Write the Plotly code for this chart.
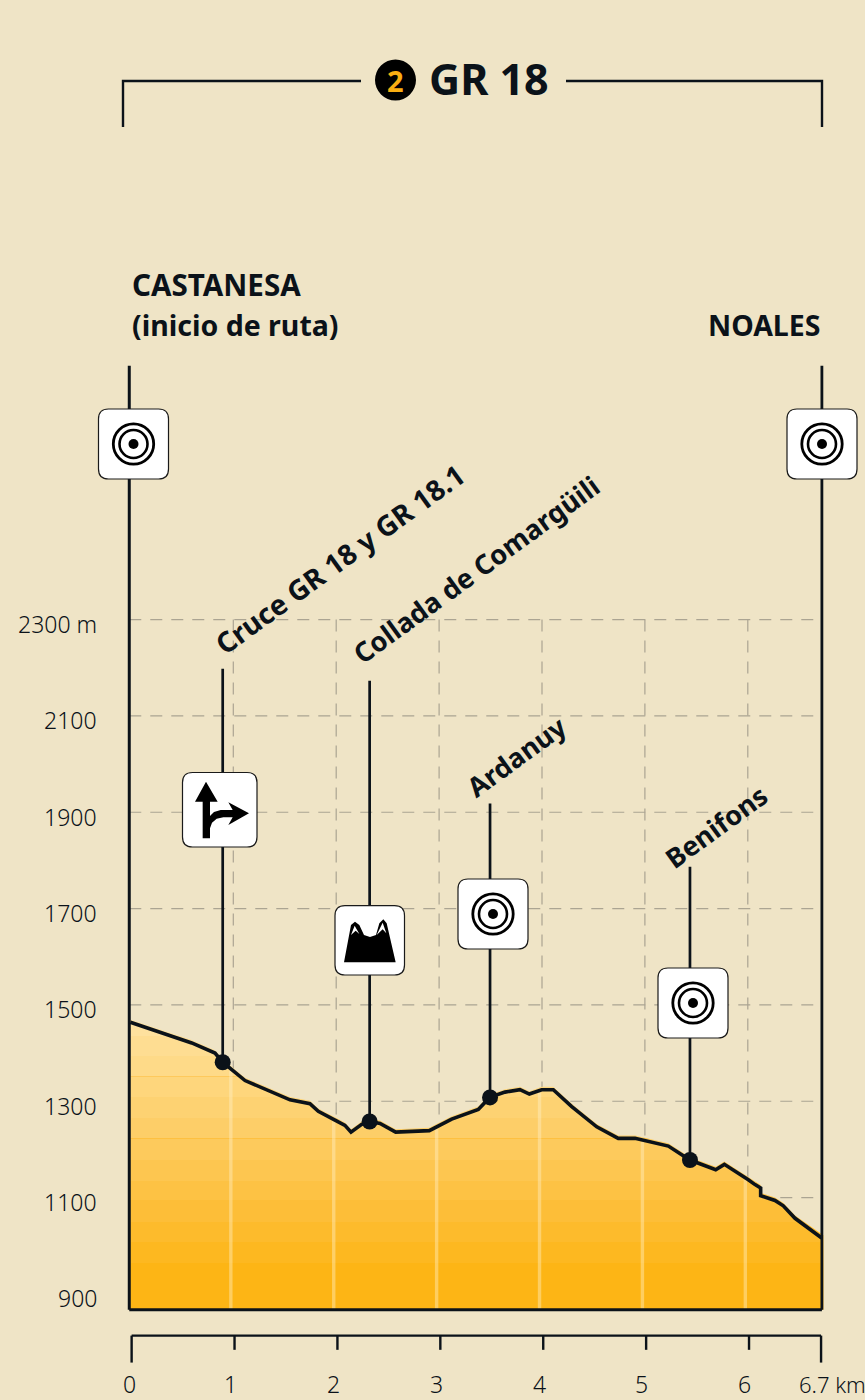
import numpy as np
import plotly.graph_objects as go

W, H = 865, 1400
BG = "#EFE4C6"
INK = "#0B1219"
GRID = "#ABA492"
FONT = "Noto Sans"

# Elevation profile
profile_km = [0.00, 0.596, 0.822, 0.897, 1.114, 1.551, 1.745, 1.826, 1.988, 2.085, 2.144, 2.248, 2.322, 2.426,
              2.578, 2.905, 3.122, 3.381, 3.492, 3.640, 3.786, 3.877, 3.997, 4.110, 4.289, 4.532, 4.741, 4.904,
              5.228, 5.438, 5.688, 5.772, 6.005, 6.070, 6.125, 6.125, 6.264, 6.345, 6.459, 6.718]
profile_m = [1464, 1421, 1400, 1381, 1343, 1303, 1295, 1279, 1261, 1250, 1236, 1252, 1258, 1254,
             1236, 1239, 1263, 1283, 1308, 1319, 1324, 1315, 1324, 1324, 1289, 1247, 1223, 1223,
             1207, 1178, 1158, 1169, 1137, 1127, 1120, 1104, 1094, 1083, 1057, 1016]

# Waypoints
waypoint_names = ["Cruce GR 18 y GR 18.1", "Collada de Comargüili", "Ardanuy", "Benifons"]
waypoint_km = [0.897, 2.325, 3.495, 5.438]
waypoint_m = [1381, 1258, 1308, 1178]
waypoint_stem_top_m = [2198, 2173, 1918, 1787]

# Axes
km_ticks = [0, 1, 2, 3, 4, 5, 6, 6.7]
km_tick_labels = ["0", "1", "2", "3", "4", "5", "6", "6.7 km"]
grid_km = [1, 2, 3, 4, 5, 6]
elev_ticks = [2300, 2100, 1900, 1700, 1500, 1300, 1100, 900]
elev_tick_labels = ["2300 m", "2100", "1900", "1700", "1500", "1300", "1100", "900"]
grid_elev = [2300, 2100, 1900, 1700, 1500, 1300, 1100]

# Fill bands (elevation of upper edge, colour)
band_tops = [1480, 1436, 1393, 1351, 1308, 1266, 1222, 1179, 1135, 1094, 1050, 1007, 965]
band_colours = ["#FEE19E", "#FEDD92", "#FEDA88", "#FED67C", "#FDD272", "#FDCE68", "#FDCA5C", "#FDC650",
                "#FDC244", "#FDBE38", "#FDBB2C", "#FDB820", "#FDB515"]
seam_m = [1351, 1222, 1094]
seam_colours = ["#FEC95C", "#FEC040", "#FDBB2A"]

BASE = 867
FRAME_TOP = 2827
FRAME_L, FRAME_R = -0.011, 6.72

# Whole-page axes: the page itself is the plot area
x0_px, km_px = 130.4, 102.9
y0_px, m_px = 1197.6, 0.4817
xr = [(0 - x0_px) / km_px, (W - x0_px) / km_px]
yr = [1100 + (y0_px - H) / m_px, 1100 + y0_px / m_px]

def px(x):
    return x / W
def py(y):
    return 1 - y / H

def path(points):
    return "M" + " L".join(f"{px(a):.5f},{py(b):.5f}" for a, b in points) + " Z"

fig = go.Figure()

def line(xs, ys, width=2.6, color=INK, dash=None):
    fig.add_trace(go.Scatter(x=xs, y=ys, mode="lines", hoverinfo="skip", showlegend=False,
                             line=dict(color=color, width=width, dash=dash, simplify=False)))

# Grid
for e in grid_elev:
    line([FRAME_L, FRAME_R], [e, e], 1.2, GRID, "12px,9px")
for k in grid_km:
    line([k, k], [2300, BASE], 1.2, GRID, "12px,9px")

# Stepped colour scale for the fill
span = band_tops[0] - BASE
stops = [(0.0, band_colours[-1])]
for top, lower_colour, upper_colour in zip(band_tops[::-1][:-1], band_colours[::-1][:-1], band_colours[::-1][1:]):
    t = (top - BASE) / span
    stops += [(t, lower_colour)]
    if top in seam_m:
        c = seam_colours[seam_m.index(top)]
        stops += [(t, c), (t + 1.6 / span, c), (t + 1.6 / span, upper_colour)]
    else:
        stops += [(t, upper_colour)]
stops += [(1.0, band_colours[0])]

fill_x = [profile_km[0] - 0.01] + profile_km[1:-1] + [6.735, 6.735, profile_km[0] - 0.01]
fill_y = [v + 6 for v in profile_m] + [BASE, BASE]
fig.add_trace(go.Scatter(x=fill_x, y=fill_y, mode="lines", fill="toself", hoverinfo="skip", showlegend=False,
                         line=dict(width=0),
                         fillgradient=dict(type="vertical", colorscale=stops, start=BASE, stop=band_tops[0])))

# Pale stripes at each km
for k in grid_km:
    top = float(np.interp(k - 0.024, profile_km, profile_m))
    line([k - 0.024, k - 0.024], [BASE, top - 4], 3.4, "rgba(255,240,200,0.42)")

# Frame
line([FRAME_L, FRAME_L], [FRAME_TOP, BASE], 3)
line([FRAME_R, FRAME_R], [FRAME_TOP, BASE], 2.8)
line([FRAME_L, FRAME_R], [BASE, BASE], 3)

# Stems
for k, m, t in zip(waypoint_km, waypoint_m, waypoint_stem_top_m):
    line([k, k], [m, t], 2.7)

# Profile
fig.add_trace(go.Scatter(x=profile_km, y=profile_m, mode="lines", hoverinfo="skip", showlegend=False,
                         line=dict(color=INK, width=3.6, simplify=False)))
fig.add_trace(go.Scatter(x=waypoint_km, y=waypoint_m, mode="markers", hoverinfo="skip", showlegend=False,
                         marker=dict(color=INK, size=16)))

# Lower km ruler
RULER = 813.5
rx = [k + 0.012 for k in km_ticks]
line([rx[0], rx[-1]], [RULER, RULER], 2.4)
for i, k in enumerate(rx):
    end = 757.5 if i in (0, len(rx) - 1) else 784
    line([k, k], [RULER, end], 2.4)

annotations = []
def text(s, x, y, size, bold=False, anchor="left", angle=0, color=INK, family=FONT):
    annotations.append(dict(text=f"<b>{s}</b>" if bold else s, x=px(x), y=py(y), xref="paper", yref="paper",
                            xanchor=anchor, yanchor="middle", showarrow=False, textangle=angle,
                            font=dict(family=family, size=size, color=color)))

for k, lab in zip(km_ticks, km_tick_labels):
    last = k == 6.7
    annotations.append(dict(text=lab, x=k, y=712.5, xref="x", yref="y", xshift=-23 if last else (-1 if k == 0 else -3),
                            xanchor="left" if last else "center", yanchor="middle", showarrow=False,
                            font=dict(family=FONT, size=22 if last else 23, color=INK, weight=300)))
for e, lab in zip(elev_ticks, elev_tick_labels):
    annotations.append(dict(text=lab, x=(99 - x0_px) / km_px, y=e, xref="x", yref="y", yshift=-4.5,
                            xanchor="right", yanchor="middle", showarrow=False,
                            font=dict(family=FONT, size=23, color=INK, weight=300)))

text("CASTANESA", 129.5, 285, 29.6, True)
text("(inicio de ruta)", 129.5, 325, 28.5, True)
text("NOALES", 822, 325, 28.5, True, anchor="right")
text("GR 18", 427, 78, 43, True)
text("2", 395.5, 80, 29, True, anchor="center", color="#F9AE12")

label_sizes = [28.2, 27.2, 27, 27]
label_centres = [(339.5, 559), (476, 569.5), (516, 756), (716, 826.5)]
for name, size, (cx, cy) in zip(waypoint_names, label_sizes, label_centres):
    text(name, cx, cy, size, True, anchor="center", angle=-36)

shapes = []
# Title bracket
for pts in ([(123, 127), (123, 81), (361, 81)], [(566, 81), (822, 81), (822, 127)]):
    shapes.append(dict(type="path", xref="paper", yref="paper",
                       path="M" + " L".join(f"{px(a):.5f},{py(b):.5f}" for a, b in pts),
                       line=dict(color=INK, width=2.4)))
def circle(cx, cy, r, fill=None, stroke=None, w=0):
    shapes.append(dict(type="circle", xref="paper", yref="paper", x0=px(cx - r), x1=px(cx + r),
                       y0=py(cy + r), y1=py(cy - r),
                       fillcolor=fill or "rgba(0,0,0,0)", line=dict(color=stroke or "rgba(0,0,0,0)", width=w)))
circle(395.5, 80, 20.5, fill="#000000")

def box(x0, y0, x1, y1, r=10):
    sx0, sx1, sy0, sy1 = px(x0), px(x1), py(y0), py(y1)
    rx_, ry_ = r / W, r / H
    d = (f"M{sx0 + rx_},{sy0} L{sx1 - rx_},{sy0} Q{sx1},{sy0} {sx1},{sy0 - ry_} L{sx1},{sy1 + ry_} "
         f"Q{sx1},{sy1} {sx1 - rx_},{sy1} L{sx0 + rx_},{sy1} Q{sx0},{sy1} {sx0},{sy1 + ry_} "
         f"L{sx0},{sy0 - ry_} Q{sx0},{sy0} {sx0 + rx_},{sy0} Z")
    shapes.append(dict(type="path", xref="paper", yref="paper", path=d, fillcolor="#FFFFFF",
                       line=dict(color="#1A1A1A", width=1.2)))

def target(x0, y0):
    box(x0, y0, x0 + 70, y0 + 70)
    cx, cy = x0 + 35, y0 + 35
    circle(cx, cy, 20.2, stroke="#000000", w=2.8)
    circle(cx, cy, 14, stroke="#000000", w=2.6)
    circle(cx, cy, 5, fill="#000000")

target(98.5, 409)
target(787, 409)
target(458, 879)
target(658, 968)

# Junction icon
box(182.5, 772.5, 257, 847)
def z3(pts):
    return [(90 + a / 3, 760 + b / 3) for a, b in pts]
arrow = z3([(338, 235), (338, 125), (315, 125), (348, 65), (383, 125), (360, 125), (360, 168), (372, 156),
            (392, 150), (428, 150), (415, 127), (477, 160), (415, 195), (428, 172), (400, 172), (380, 176),
            (366, 188), (360, 205), (360, 235)])
shapes.append(dict(type="path", xref="paper", yref="paper", path=path(arrow), fillcolor="#000000", line=dict(width=0)))

# Peaks icon
box(335, 905.7, 404.5, 975)
peak = z3([(762, 607), (783, 495), (795, 485), (808, 495), (822, 525), (840, 531), (858, 525), (868, 490),
           (880, 478), (890, 490), (917, 607)])
shapes.append(dict(type="path", xref="paper", yref="paper", path=path(peak), fillcolor="#000000", line=dict(width=0)))
for cap in ([(783, 525), (794, 497), (808, 522), (797, 512)], [(860, 525), (878, 488), (889, 520), (878, 508)]):
    shapes.append(dict(type="path", xref="paper", yref="paper", path=path(z3(cap)), fillcolor="#FFFFFF", line=dict(width=0)))

fig.update_layout(
    width=W, height=H, margin=dict(l=0, r=0, t=0, b=0), autosize=False,
    paper_bgcolor=BG, plot_bgcolor=BG, showlegend=False,
    xaxis=dict(range=xr, visible=False, fixedrange=True),
    yaxis=dict(range=yr, visible=False, fixedrange=True),
    shapes=shapes, annotations=annotations,
)
fig.write_html("out.html", config={"displayModeBar": False},
               post_script="document.body.style.margin='0';document.body.style.overflow='hidden';document.body.style.background='%s';" % BG)
